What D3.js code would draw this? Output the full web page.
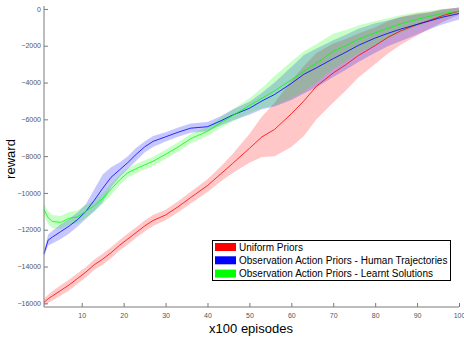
<!DOCTYPE html>
<html><head><meta charset="utf-8">
<script src="https://cdn.jsdelivr.net/npm/d3@7"></script>
<style>body{margin:0;background:#fff}svg{display:block}</style>
</head><body>
<script>
// episodes (x100)
const episodes = [1,2,3,5,7,9,11,13,15,17,19,21,23,25,27,30,33,36,40,43,46,50,53,56,60,63,66,70,73,76,80,83,86,90,93,96,100];

const uniformMean = [-15950,-15750,-15600,-15300,-15000,-14650,-14300,-13900,-13600,-13250,-12850,-12500,-12150,-11800,-11500,-11200,-10750,-10250,-9600,-9000,-8400,-7580,-6950,-6550,-5700,-5000,-4200,-3480,-3030,-2530,-1990,-1550,-1200,-845,-620,-370,-120];
const uniformSpread = [200,220,250,280,300,280,280,280,300,300,280,300,280,300,300,280,300,320,350,400,520,780,1100,1450,1800,1900,1800,1600,1400,1200,1000,880,760,600,450,350,200];

const humanMean = [-13300,-12560,-12400,-12100,-11800,-11450,-11000,-10400,-9750,-9150,-8750,-8350,-7900,-7500,-7200,-6950,-6700,-6480,-6400,-6100,-5770,-5400,-5000,-4650,-4050,-3550,-3200,-2700,-2350,-1980,-1580,-1330,-1100,-840,-650,-450,-250];
const humanSpread = [150,300,350,400,400,380,400,600,750,550,400,350,350,300,300,250,250,250,250,250,300,350,450,650,900,1050,1050,1000,950,900,800,700,650,550,450,400,330];

const learntMean = [-10900,-11350,-11550,-11600,-11380,-11300,-11000,-10700,-10300,-9800,-9300,-8900,-8680,-8480,-8280,-7900,-7500,-7050,-6650,-6200,-5800,-5250,-4850,-4450,-3850,-3400,-2950,-2300,-2000,-1650,-1300,-1050,-820,-560,-400,-250,-120];
const learntSpread = [300,350,350,350,350,350,350,300,300,300,280,260,250,250,250,250,250,250,250,280,320,400,550,800,1000,1100,1050,950,850,750,650,550,480,380,300,250,150];

const legendLabels = ["Uniform Priors","Observation Action Priors - Human Trajectories","Observation Action Priors - Learnt Solutions"];
const seriesColors = ["#ff0000","#0000ff","#00ff00"];
const xTicks = [10,20,30,40,50,60,70,80,90,100];
const yTicks = [0,-2000,-4000,-6000,-8000,-10000,-12000,-14000,-16000];

const W = 464, H = 337;
const svg = d3.select("body").append("svg").attr("width", W).attr("height", H)
  .style("font-family", "'Liberation Sans', Arial, sans-serif");

const x = d3.scaleLinear().domain([1,100]).range([44,459]);
const y = d3.scaleLinear().domain([-16200,160]).range([307,6]);

const series = [
  {mean: uniformMean, spread: uniformSpread, color: seriesColors[0]},
  {mean: humanMean, spread: humanSpread, color: seriesColors[1]},
  {mean: learntMean, spread: learntSpread, color: seriesColors[2]}
];

const g = svg.append("g");
series.forEach(s => {
  const pts = episodes.map((e,i) => ({e, m: s.mean[i], sd: s.spread[i]}));
  g.append("path").datum(pts)
    .attr("d", d3.area().x(d => x(d.e)).y0(d => y(d.m - d.sd)).y1(d => y(d.m + d.sd)))
    .attr("fill", s.color).attr("fill-opacity", 0.22).attr("stroke", "none");
});
series.forEach(s => {
  const pts = episodes.map((e,i) => ({e, m: s.mean[i]}));
  g.append("path").datum(pts)
    .attr("d", d3.line().x(d => x(d.e)).y(d => y(d.m)))
    .attr("fill", "none").attr("stroke", s.color).attr("stroke-width", 0.8);
});

// axes
const axisColor = "#7a7a7a";
const xAxis = svg.append("g").attr("transform", "translate(0,307)")
  .call(d3.axisBottom(x).tickValues(xTicks).tickSize(-4).tickPadding(6).tickFormat(d3.format("d")));
const yAxis = svg.append("g").attr("transform", "translate(44,0)")
  .call(d3.axisLeft(y).tickValues(yTicks).tickSize(-4).tickPadding(3).tickFormat(d3.format("d")));
[xAxis, yAxis].forEach(a => {
  a.select(".domain").attr("stroke", axisColor);
  a.selectAll(".tick line").attr("stroke", axisColor);
  a.selectAll(".tick text").attr("fill", "#555").style("font-size", "7px").style("font-family", "'Liberation Sans', Arial, sans-serif");
});
xAxis.select(".domain").attr("d", `M${x(1)},0H${x(100)}`);
yAxis.select(".domain").attr("d", `M0,${y(160)}V${y(-16200)}`);

// axis labels
svg.append("text").attr("x", 251).attr("y", 333).attr("text-anchor", "middle")
  .style("font-size", "13px").attr("fill", "#000").text("x100 episodes");
svg.append("text").attr("transform", "translate(15,159) rotate(-90)").attr("text-anchor", "middle")
  .style("font-size", "13px").attr("fill", "#000").text("reward");

// legend
const lg = svg.append("g");
lg.append("rect").attr("x", 212.5).attr("y", 240.5).attr("width", 238).attr("height", 40)
  .attr("fill", "#fff").attr("stroke", "#000").attr("stroke-width", 1);
legendLabels.forEach((t,i) => {
  lg.append("rect").attr("x", 215).attr("y", 243 + i*13.3).attr("width", 21).attr("height", 8)
    .attr("fill", seriesColors[i]);
  lg.append("text").attr("x", 239).attr("y", 250.8 + i*13.3)
    .style("font-size", "10px").attr("fill", "#000").text(t);
});
</script>
</body></html>
